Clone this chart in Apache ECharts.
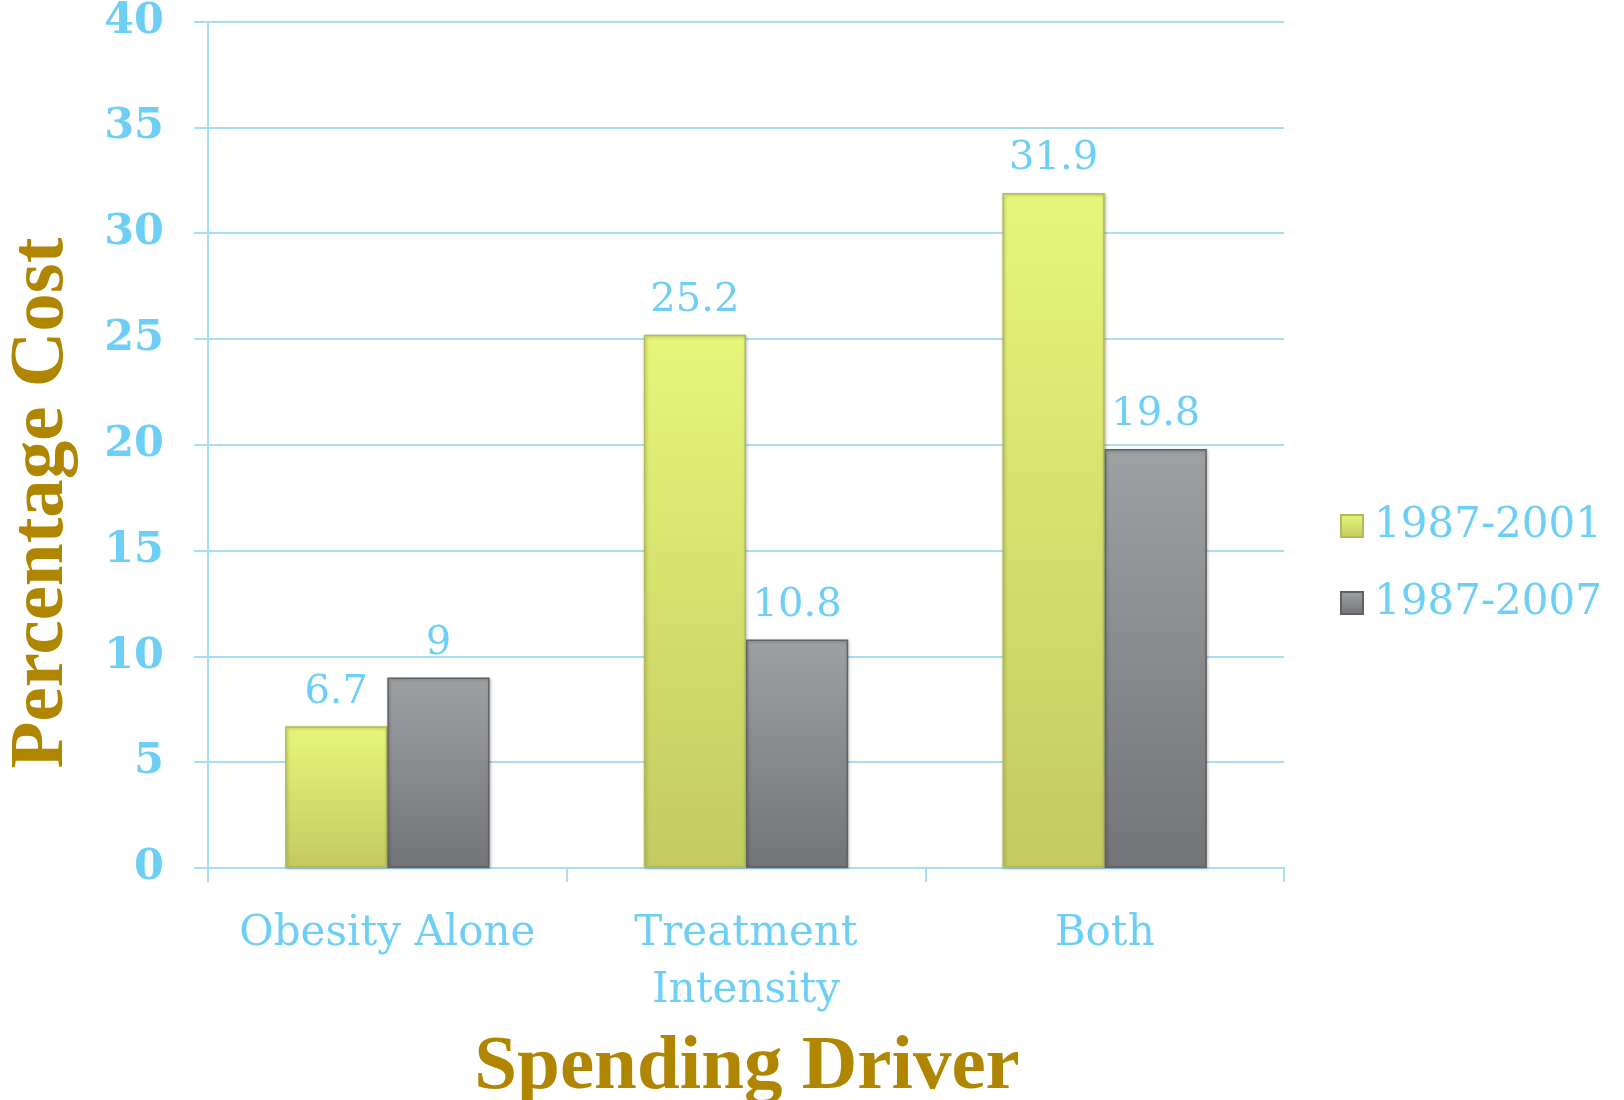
<!DOCTYPE html>
<html>
<head>
<meta charset="utf-8">
<script src="https://cdn.jsdelivr.net/npm/echarts@6/dist/echarts.min.js"></script>
<style>
html, body { margin: 0; padding: 0; background: #fff; }
#chart { width: 1624px; height: 1100px; }
</style>
</head>
<body>
<div id="chart"></div>
<script>
var categories = ['Obesity Alone', 'Treatment\nIntensity', 'Both'];
var seriesNames = ['1987-2001', '1987-2007'];
var values2001 = [6.7, 25.2, 31.9];
var values2007 = [9, 10.8, 19.8];
var yTicks = { min: 0, max: 40, interval: 5 };

var blue = '#6dcff6';
var gridBlue = '#a9ddf3';
var gold = '#b08600';
var serif = '"DejaVu Serif", Georgia, serif';
var titleFont = '"Liberation Serif", "Times New Roman", serif';

var chart = echarts.init(document.getElementById('chart'));

function barStyle(top, bottom, border) {
    return {
        color: new echarts.graphic.LinearGradient(0, 0, 0, 1, [
            { offset: 0, color: top },
            { offset: 1, color: bottom }
        ]),
        borderColor: border,
        borderWidth: 1.5,
        shadowColor: 'rgba(0,0,0,0.25)',
        shadowBlur: 3,
        shadowOffsetX: 1,
        shadowOffsetY: 1
    };
}

var label = {
    show: true,
    position: 'top',
    distance: 14,
    color: blue,
    fontFamily: serif,
    fontSize: 40
};

var option = {
    backgroundColor: '#ffffff',
    animation: false,
    grid: {
        left: 208,
        right: 340,
        top: 17,
        bottom: 232
    },
    legend: {
        orient: 'vertical',
        left: 1335,
        top: 500,
        itemWidth: 22,
        itemHeight: 22,
        itemGap: 35,
        icon: 'rect',
        textStyle: {
            color: blue,
            fontFamily: serif,
            fontSize: 42,
            padding: [0, 0, 0, 6]
        },
        data: seriesNames
    },
    xAxis: {
        type: 'category',
        data: categories,
        axisLine: { show: true, lineStyle: { color: gridBlue, width: 2 } },
        axisTick: { show: true, interval: 0, length: 14, lineStyle: { color: gridBlue, width: 2 } },
        axisLabel: {
            interval: 0,
            color: blue,
            fontFamily: serif,
            fontSize: 42,
            lineHeight: 57,
            margin: 38
        }
    },
    yAxis: {
        type: 'value',
        min: yTicks.min,
        max: yTicks.max,
        interval: yTicks.interval,
        axisLine: { show: true, lineStyle: { color: gridBlue, width: 2 } },
        axisTick: { show: true, length: 14, lineStyle: { color: gridBlue, width: 2 } },
        splitLine: { show: true, lineStyle: { color: gridBlue, width: 2 } },
        axisLabel: {
            color: blue,
            fontFamily: serif,
            fontWeight: 'bold',
            fontSize: 43,
            margin: 44,
            padding: [6, 0, 0, 0]
        }
    },
    graphic: [
        {
            type: 'text',
            rotation: Math.PI / 2,
            x: 42,
            y: 503,
            style: {
                text: 'Percentage Cost',
                fill: gold,
                font: 'bold 77px ' + titleFont,
                align: 'center',
                verticalAlign: 'middle'
            }
        },
        {
            type: 'text',
            x: 747,
            y: 1068,
            style: {
                text: 'Spending Driver',
                fill: gold,
                font: 'bold 77px ' + titleFont,
                align: 'center',
                verticalAlign: 'middle'
            }
        }
    ],
    series: [
        {
            name: seriesNames[0],
            type: 'bar',
            barGap: '0%',
            barCategoryGap: '43%',
            itemStyle: barStyle('#e6f67a', '#c3ca60', '#b4bb56'),
            label: label,
            data: values2001
        },
        {
            name: seriesNames[1],
            type: 'bar',
            itemStyle: barStyle('#9ea1a4', '#727477', '#5f6164'),
            label: label,
            data: values2007
        }
    ]
};

chart.setOption(option);
</script>
</body>
</html>
